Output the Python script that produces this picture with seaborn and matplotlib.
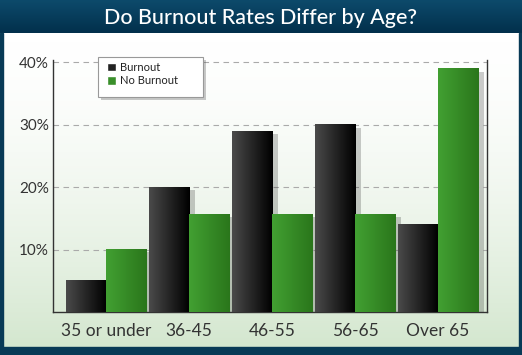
import numpy as np
import pandas as pd
import matplotlib.pyplot as plt
import seaborn as sns
from matplotlib import patheffects as pe
from matplotlib.colors import LinearSegmentedColormap
from matplotlib.patches import Rectangle

# Data
ages = ['35 or under', '36-45', '46-55', '56-65', 'Over 65']
burnout = [5, 20, 29, 30, 14]
no_burnout = [10, 15.7, 15.7, 15.7, 39]
groups = ['Burnout', 'No Burnout']
yticks = [10, 20, 30, 40]

df = pd.DataFrame({
    'age': ages * 2,
    'rate': burnout + no_burnout,
    'group': [groups[0]] * len(ages) + [groups[1]] * len(ages),
})

sns.set_style('white')
plt.rcParams['font.family'] = ['Lato', 'DejaVu Sans']

W, H = 522, 355
fig = plt.figure(figsize=(W / 100, H / 100), dpi=100)

# background: white->green gradient, navy title band and frame
bg = fig.add_axes([0, 0, 1, 1], zorder=-5)
bg.set_axis_off()
grad = np.linspace(0, 1, 256)[:, None] ** 1.6
bg.imshow(grad, extent=[0, W, 347, 33], aspect='auto',
          cmap=LinearSegmentedColormap.from_list('bg', ['#ffffff', '#d4e7cf']))
bg.imshow(np.linspace(0, 1, 64)[:, None], extent=[0, W, 33, 0], aspect='auto',
          cmap=LinearSegmentedColormap.from_list('nv', ['#0d4a6b', '#02304c']))
navy = '#083a56'
bg.add_patch(Rectangle((0, 33), 3, 314, color=navy))
bg.add_patch(Rectangle((W - 3, 33), 3, 314, color=navy))
bg.add_patch(Rectangle((0, 347), W, 8, color=navy))
bg.set_xlim(0, W)
bg.set_ylim(H, 0)
bg.text(W / 2, 17.5, 'Do Burnout Rates Differ by Age?', color='white',
        fontsize=15.5, fontweight='medium', ha='center', va='center')

# main axes
ax = fig.add_axes([53 / W, 1 - 312 / H, 434 / W, (312 - 60) / H])
ax.patch.set_alpha(0)
sns.barplot(data=df, x='age', y='rate', hue='group', order=ages, hue_order=groups,
            palette=['#1a1a1a', '#35892a'], saturation=1, width=0.965,
            legend=False, ax=ax, zorder=2, linewidth=0)

cmaps = [LinearSegmentedColormap.from_list('blk', ['#4a4a4a', '#000000']),
         LinearSegmentedColormap.from_list('grn', ['#42a032', '#2a761b'])]
for cont, cm in zip(ax.containers, cmaps):
    for bar in cont:
        x, w, h = bar.get_x(), bar.get_width(), bar.get_height()
        ax.imshow(np.linspace(0, 1, 64)[None, :], extent=[x, x + w, 0, h],
                  cmap=cm, aspect='auto', zorder=3)
        bar.set_path_effects([pe.SimplePatchShadow(offset=(4, -2), shadow_rgbFace='k', alpha=0.2)])

ax.set_xlim(-0.64, 4.59)
ax.set_ylim(0, 40.4)
ax.set_yticks(yticks)
ax.set_yticklabels([f'{v}%' for v in yticks])
ax.set_xlabel('')
ax.set_ylabel('')
ax.yaxis.grid(True, linestyle=(0, (5, 4)), color='#aaaaaa', lw=0.8)
ax.set_axisbelow(True)
ax.tick_params(axis='y', length=0, pad=3, labelsize=11, labelcolor='#333333')
ax.tick_params(axis='x', length=0, pad=8, labelsize=12.5, labelcolor='#333333')
ax.spines['top'].set_visible(False)
for s in ['left', 'bottom', 'right']:
    ax.spines[s].set_color('#333333')
    ax.spines[s].set_linewidth(1)

# legend box drawn above axes
box = Rectangle((98 / W, 1 - 97 / H), 105 / W, 40 / H, transform=fig.transFigure,
                facecolor='white', edgecolor='#999999', lw=0.8, zorder=4,
                path_effects=[pe.SimplePatchShadow(offset=(2, -2), alpha=0.3), pe.Normal()])
fig.add_artist(box)
handles = [Rectangle((0, 0), 1, 1, fc='#222222'), Rectangle((0, 0), 1, 1, fc='#3a8f2b')]
leg = fig.legend(handles, groups, loc='upper left', bbox_to_anchor=(107 / W, 1 - 62 / H),
                 frameon=False, fontsize=8, handlelength=0.8, handleheight=0.8,
                 borderpad=0, borderaxespad=0, labelspacing=0.2, handletextpad=0.4)
leg.set_zorder(5)
for t in leg.get_texts():
    t.set_color('#222222')

fig.savefig('out.png', dpi=100)
